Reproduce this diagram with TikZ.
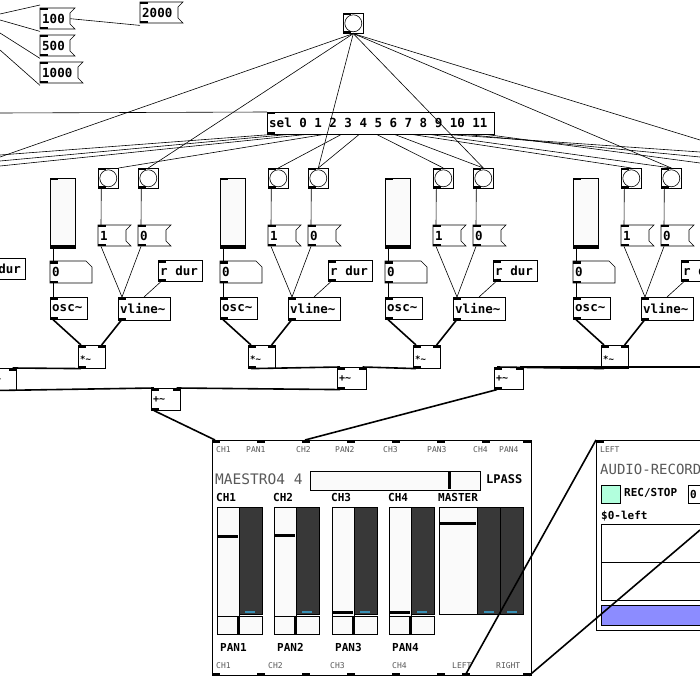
\documentclass[tikz,border=0pt]{standalone}
\usepackage{fontspec}
\setmonofont{DejaVu Sans Mono}
\begin{document}
\begin{tikzpicture}[x=1pt,y=-1pt,
  bx/.style={draw,line width=0.6pt,inner sep=0,anchor=north west,fill=white},
  txt/.style={anchor=west,inner sep=0,font=\ttfamily\bfseries\fontsize{12.5}{12.5}\selectfont},
  sm/.style={anchor=west,inner sep=0,font=\ttfamily\fontsize{8}{8}\selectfont,text=black!65},
  lab/.style={anchor=west,inner sep=0,font=\ttfamily\bfseries\fontsize{11}{11}\selectfont},
  cn/.style={line width=0.6pt},
  sig/.style={line width=1.6pt}]
\useasboundingbox (0,0) rectangle (700,700);
\clip (0,0) rectangle (700,700);
\newcommand\pio[1]{\fill (#1.north west) rectangle ++(8,2.5); \fill (#1.south west) rectangle ++(8,-2.5);}
\newcommand\obj[6]{\node[bx,minimum width=#4pt,minimum height=#5pt] (#1) at (#2,#3) {};
  \node[txt] at ([xshift=2pt]#1.west) {#6}; \pio{#1}}
\newcommand\msg[5]{\node[inner sep=0,anchor=north west,minimum width=#4pt,minimum height=21pt] (#1) at (#2,#3) {};
  \draw[line width=0.6pt,fill=white] (#2,#3) -- ++(#4+5,0) -- ++(-5,5) -- ++(0,11) -- ++(5,5) -- ++(-#4-5,0) -- cycle;
  \node[txt] at ([xshift=2pt]#1.west) {#5}; \pio{#1}}
\newcommand\num[5]{\node[inner sep=0,anchor=north west,minimum width=#4pt,minimum height=22pt] (#1) at (#2,#3) {};
  \draw[line width=0.6pt,fill=white] (#2,#3) -- ++(#4-6,0) -- ++(6,6) -- ++(0,16) -- ++(-#4,0) -- cycle;
  \node[txt] at ([xshift=2pt]#1.west) {#5}; \pio{#1}}
\newcommand\bng[3]{\node[bx,minimum width=20pt,minimum height=20pt] (#1) at (#2,#3) {};
  \draw[line width=0.6pt] (#1.center) circle (8.5); \pio{#1}}
% top message boxes
\msg{m100}{40}{8}{30}{100}
\msg{m500}{40}{35}{30}{500}
\msg{m1000}{40}{62}{38}{1000}
\msg{m2000}{140}{2}{38}{2000}
\coordinate (e1) at (0,14); \coordinate (e2) at (0,20); \coordinate (e3) at (0,33); \coordinate (e4) at (0,50);
\draw[cn] (e1) -- ([yshift=3pt]m100.north west);
\draw[cn] (e2) -- ([yshift=-2pt]m100.south west);
\draw[cn] (e3) -- ([yshift=-2pt]m500.south west);
\draw[cn] (e4) -- ([yshift=-2pt]m1000.south west);
\draw[cn] (m100.east) -- ([yshift=-2pt]m2000.south west);
% top bang and sel
\bng{tb}{343}{13}
\obj{sel}{267}{112}{227}{22}{sel 0 1 2 3 4 5 6 7 8 9 10 11}
\coordinate (hl) at (0,113);
\draw[cn] (hl) -- (sel.north west);
% partial r dur of previous column
\obj{rd0}{-19}{258}{44}{21}{r dur}
% columns
\foreach \i/\dx in {1/0,2/170,3/335,4/523}{
\begin{scope}[xshift=\dx pt]
 \node[bx,minimum width=25pt,minimum height=70pt,fill=black!2] (sl\i) at (50,178) {};
 \fill (50,178) rectangle ++(8,2); \fill (50,245) rectangle ++(25,3);
 \bng{ba\i}{98}{168} \bng{bb\i}{138}{168}
 \msg{ma\i}{98}{225}{28}{1} \msg{mb\i}{138}{225}{28}{0}
 \obj{rd\i}{158}{260}{44}{21}{r dur}
 \num{nu\i}{50}{261}{42}{0}
 \obj{os\i}{50}{297}{37}{22}{osc\char`\~}
 \obj{vl\i}{118}{297}{52}{23}{vline\char`\~}
 \node[bx,minimum width=27pt,minimum height=23pt] (mu\i) at (78,345) {};
 \node[txt,font=\ttfamily\bfseries\fontsize{9}{9}\selectfont] at ([xshift=2pt,yshift=-2pt]mu\i.west) {*\char`\~}; \pio{mu\i}
 \fill ([xshift=-8pt]mu\i.north east) rectangle ++(8,2.5);
 \draw[cn] ([xshift=3pt]sl\i.south west) -- ([xshift=3pt]nu\i.north west);
 \draw[cn] ([xshift=3pt,yshift=-22pt]nu\i.north west) -- ([xshift=3pt]os\i.north west);
 \draw[cn] (ba\i.south) ++(-7,0) -- ([xshift=3pt]ma\i.north west);
 \draw[cn] (bb\i.south) ++(-7,0) -- ([xshift=3pt]mb\i.north west);
 \draw[cn] ([xshift=3pt]ma\i.south west) -- ([xshift=4pt]vl\i.north west);
 \draw[cn] ([xshift=3pt]mb\i.south west) -- ([xshift=4pt]vl\i.north west);
 \draw[cn] ([xshift=3pt]rd\i.south west) -- ([xshift=26pt]vl\i.north west);
 \draw[sig] ([xshift=3pt]os\i.south west) -- ([xshift=3pt]mu\i.north west);
 \draw[sig] ([xshift=3pt]vl\i.south west) -- ([xshift=-4pt]mu\i.north east);
\end{scope}}
% fan from top bang
\coordinate (f1) at (0,157); \coordinate (f2) at (700,140);
\draw[cn] (tb.south) -- (f1);
\draw[cn] (tb.south) -- (bb1.north);
\draw[cn] (tb.south) -- (bb2.north);
\draw[cn] (tb.south) -- (bb3.north);
\draw[cn] (tb.south) -- (bb4.north);
\draw[cn] (tb.south) -- (f2);
% sel outlets
\coordinate (g1) at (0,155); \coordinate (g2) at (0,161); \coordinate (g3) at (0,166);
\coordinate (g4) at (700,152); \coordinate (g5) at (700,157); \coordinate (g6) at (700,163);
\draw[cn] ([xshift=3pt]sel.south west) -- (g1);
\draw[cn] ([xshift=20pt]sel.south west) -- (g2);
\draw[cn] ([xshift=38pt]sel.south west) -- (g3);
\draw[cn] ([xshift=56pt]sel.south west) -- (ba1.north east);
\draw[cn] ([xshift=74pt]sel.south west) -- (ba2.north);
\draw[cn] ([xshift=92pt]sel.south west) -- (bb2.north);
\draw[cn] ([xshift=110pt]sel.south west) -- (ba3.north);
\draw[cn] ([xshift=128pt]sel.south west) -- (bb3.north);
\draw[cn] ([xshift=146pt]sel.south west) -- (ba4.north);
\draw[cn] ([xshift=164pt]sel.south west) -- (bb4.north);
\draw[cn] ([xshift=182pt]sel.south west) -- (g4);
\draw[cn] ([xshift=200pt]sel.south west) -- (g5);
\draw[cn] ([xshift=220pt]sel.south west) -- (g6);
% adders
\newcommand\add[3]{\node[bx,minimum width=29pt,minimum height=22pt] (#1) at (#2,#3) {};
 \node[txt,font=\ttfamily\bfseries\fontsize{10}{10}\selectfont] at ([xshift=2pt]#1.west) {+\char`\~}; \pio{#1}
 \fill ([xshift=-8pt]#1.north east) rectangle ++(8,2.5);}
\add{aL}{-13}{368}
\add{aM}{337}{367}
\add{aR}{494}{367}
\add{aC}{151}{388}
\coordinate (rr) at (700,367);
\draw[sig] ([xshift=3pt]mu1.south west) -- ([xshift=-4pt]aL.north east);
\draw[sig] ([xshift=3pt]mu2.south west) -- ([xshift=3pt]aM.north west);
\draw[sig] ([xshift=3pt]mu3.south west) -- ([xshift=-4pt]aM.north east);
\draw[sig] ([xshift=3pt]mu4.south west) -- ([xshift=3pt]aR.north west);
\draw[sig] (rr) -- ([xshift=-4pt]aR.north east);
\draw[sig] ([xshift=3pt]aL.south west) -- ([xshift=3pt]aC.north west);
\draw[sig] ([xshift=3pt]aM.south west) -- ([xshift=-4pt]aC.north east);
% maestro
\node[bx,minimum width=319pt,minimum height=235pt] (ma) at (212,440) {};
\foreach \x in {0,45,90,135,180,225,270,311} \fill (212+\x,440) rectangle ++(8,2.5);
\foreach \x in {0,45,90,135,180,225,250,311} \fill (212+\x,675) rectangle ++(8,-2.5);
\foreach \x/\t in {216/CH1,246/PAN1,296/CH2,335/PAN2,383/CH3,427/PAN3,473/CH4,499/PAN4} \node[sm] at (\x,450) {\t};
\foreach \x/\t in {216/CH1,268/CH2,330/CH3,392/CH4,452/LEFT,496/RIGHT} \node[sm] at (\x,666) {\t};
\node[anchor=west,inner sep=0,font=\ttfamily\fontsize{14.5}{14.5}\selectfont,text=black!65] at (215,479) {MAESTRO4 4};
\draw[line width=0.6pt,fill=black!2] (310,471) rectangle (480,490);
\fill (448,472) rectangle (451,489);
\node[lab,font=\ttfamily\bfseries\fontsize{12}{12}\selectfont] at (486,479) {LPASS};
\foreach \x/\t/\h in {217/1/536,274/2/535,332/3/612,389/4/612}{
 \node[lab] at (\x-1,497) {CH\t};
 \draw[line width=0.6pt,fill=black!2] (\x,507) rectangle (\x+22,616);
 \fill (\x,\h-1) rectangle (\x+21,\h+2);
 \draw[line width=0.6pt,fill=black!78] (\x+22,507) rectangle (\x+45,614);
 \fill[cyan!70!black] (\x+28,611) rectangle (\x+38,612.5);
 \draw[line width=0.6pt,fill=black!2] (\x,616) rectangle (\x+45,634);
 \fill (\x+20,616) rectangle (\x+23,634);
 \node[lab] at (\x+3,647) {PAN\t};
}
\node[lab] at (438,497) {MASTER};
\draw[line width=0.6pt,fill=black!2] (439,507) rectangle (477,614);
\fill (439,522) rectangle (476,525);
\draw[line width=0.6pt,fill=black!78] (477,507) rectangle (500,614);
\draw[line width=0.6pt,fill=black!78] (500,507) rectangle (523,614);
\fill[cyan!70!black] (484,611) rectangle (494,612.5);
\fill[cyan!70!black] (507,611) rectangle (517,612.5);
\draw[sig] ([xshift=3pt]aC.south west) -- ([xshift=3pt]ma.north west);
\draw[sig] ([xshift=3pt]aR.south west) -- ([xshift=93pt]ma.north west);
% audio record
\node[bx,minimum width=120pt,minimum height=190pt] (ar) at (596,440) {};
\fill (596,440) rectangle ++(8,2.5);
\node[sm] at (600,450) {LEFT};
\node[anchor=west,inner sep=0,font=\ttfamily\fontsize{14}{14}\selectfont,text=black!65] at (600,469) {AUDIO-RECORDER};
\draw[line width=0.6pt,fill=green!45!cyan!30!white] (601,485) rectangle (620,503);
\node[lab] at (624,493) {REC/STOP};
\draw[line width=1pt] (688,485) rectangle (705,503);
\node[lab] at (690,494) {0};
\node[lab] at (601,516) {\$0-left};
\draw[line width=0.6pt] (601,524) rectangle (710,600);
\draw[line width=0.6pt] (601,562) -- (710,562);
\draw[line width=0.6pt,fill=blue!45!white] (601,605) rectangle (710,625);
\coordinate (rt) at (700,530);
\draw[sig] ([xshift=253pt]ma.south west) -- (ar.north west);
\draw[sig] ([xshift=317pt]ma.south west) -- (rt);
\end{tikzpicture}
\end{document}
